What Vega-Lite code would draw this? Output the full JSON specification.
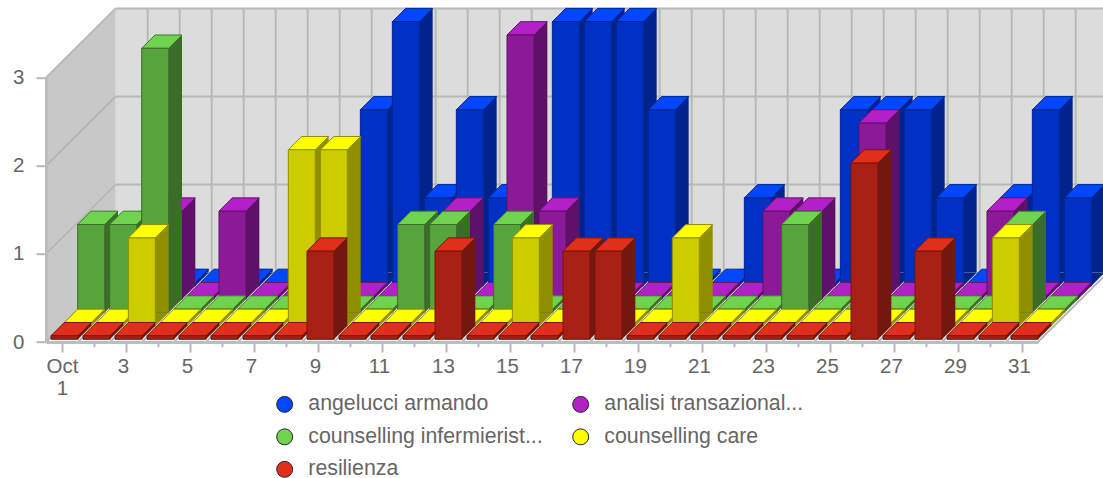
{"$schema":"https://vega.github.io/schema/vega-lite/v6.json","width":992,"height":264.3,"autosize":{"type":"none"},"padding":{"left":46,"top":77.7,"right":65,"bottom":136},"background":"#ffffff",
"config":{"view":{"stroke":null},"font":"Liberation Sans","axis":{"labelFont":"Liberation Sans","labelFontSize":20.5,"labelColor":"#666666","domainColor":"#bdbdbd","tickColor":"#b8b8b8","grid":false,"title":null},"legend":{"labelFont":"Liberation Sans"}},
"datasets":{"edges":[{"d":0.5},{"d":1.5},{"d":2.5},{"d":3.5},{"d":4.5},{"d":5.5},{"d":6.5},{"d":7.5},{"d":8.5},{"d":9.5},{"d":10.5},{"d":11.5},{"d":12.5},{"d":13.5},{"d":14.5},{"d":15.5},{"d":16.5},{"d":17.5},{"d":18.5},{"d":19.5},{"d":20.5},{"d":21.5},{"d":22.5},{"d":23.5},{"d":24.5},{"d":25.5},{"d":26.5},{"d":27.5},{"d":28.5},{"d":29.5},{"d":30.5},{"d":31.5}],"levels":[{"l":0,"d":0.5,"d2":31.5},{"l":1,"d":0.5,"d2":31.5},{"l":2,"d":0.5,"d2":31.5},{"l":3,"d":0.5,"d2":31.5}],
"bars":[
{"d":1,"a":0,"b":0,"c":1,"y":0,"r":0},{"d":2,"a":0,"b":0,"c":1,"y":0,"r":0},{"d":3,"a":0,"b":1,"c":3,"y":1,"r":0},{"d":4,"a":0,"b":0,"c":0,"y":0,"r":0},{"d":5,"a":0,"b":1,"c":0,"y":0,"r":0},{"d":6,"a":0,"b":0,"c":0,"y":0,"r":0},{"d":7,"a":0,"b":0,"c":0,"y":0,"r":0},{"d":8,"a":0,"b":0,"c":0,"y":2,"r":0},{"d":9,"a":2,"b":0,"c":0,"y":2,"r":1},{"d":10,"a":3,"b":0,"c":0,"y":0,"r":0},{"d":11,"a":1,"b":0,"c":1,"y":0,"r":0},{"d":12,"a":2,"b":1,"c":1,"y":0,"r":0},{"d":13,"a":1,"b":0,"c":0,"y":0,"r":1},{"d":14,"a":0,"b":3,"c":1,"y":0,"r":0},{"d":15,"a":3,"b":1,"c":0,"y":1,"r":0},{"d":16,"a":3,"b":0,"c":0,"y":0,"r":0},{"d":17,"a":3,"b":0,"c":0,"y":0,"r":1},{"d":18,"a":2,"b":0,"c":0,"y":0,"r":1},{"d":19,"a":0,"b":0,"c":0,"y":0,"r":0},{"d":20,"a":0,"b":0,"c":0,"y":1,"r":0},{"d":21,"a":1,"b":0,"c":0,"y":0,"r":0},{"d":22,"a":0,"b":1,"c":0,"y":0,"r":0},{"d":23,"a":0,"b":1,"c":1,"y":0,"r":0},{"d":24,"a":2,"b":0,"c":0,"y":0,"r":0},{"d":25,"a":2,"b":2,"c":0,"y":0,"r":0},{"d":26,"a":2,"b":0,"c":0,"y":0,"r":2},{"d":27,"a":1,"b":0,"c":0,"y":0,"r":0},{"d":28,"a":0,"b":0,"c":0,"y":0,"r":1},{"d":29,"a":1,"b":1,"c":0,"y":0,"r":0},{"d":30,"a":2,"b":0,"c":1,"y":1,"r":0},{"d":31,"a":1,"b":0,"c":0,"y":0,"r":0}]},
"data":{"name":"bars"},
"encoding":{"x":{"field":"d","type":"quantitative","title":null,"scale":{"domain":[0.5,31.5],"nice":false,"zero":false,"padding":0},"axis":{"values":[1,2,3,4,5,6,7,8,9,10,11,12,13,14,15,16,17,18,19,20,21,22,23,24,25,26,27,28,29,30,31],"zindex":1,"domainWidth":3,"tickWidth":2,"tickSize":{"condition":{"test":"datum.value%2==0","value":4.5},"value":10},"labelOverlap":false,"labelFlush":false,"labelPadding":{"condition":{"test":"datum.value%2==0","value":9.5},"value":4},"labelLineHeight":22,"labelOffset":{"condition":{"test":"datum.value==1","value":0},"value":-3},"labelExpr":"datum.value==1?['Oct','1']:(datum.value%2==1?''+datum.value:'')"}}},
"layer":[
{"data":{"values":[{"d":0.5,"d2":31.5,"lo":0,"hi":3}]},"mark":{"type":"rect","fill":"#dcdcdc","xOffset":69.7,"x2Offset":69.7,"yOffset":-69.3,"y2Offset":-69.3},"encoding":{"x2":{"field":"d2"},"y":{"field":"lo","type":"quantitative","scale":{"domain":[0,3],"nice":false},"axis":{"values":[0,1,2,3],"format":"d","zindex":1,"domainWidth":3,"tickWidth":2,"tickSize":10,"labelPadding":12}},"y2":{"field":"hi"}}},
{"data":{"values":[{"d":0.5,"lo":0}]},"mark":{"type":"point","filled":true,"opacity":1,"size":4,"fill":"#c8c8c8","shape":"M0,0L0,-264.3L69.7,-333.6L69.7,-69.3Z"},"encoding":{"y":{"field":"lo","type":"quantitative"}}},
{"data":{"name":"edges"},"transform":[{"filter":"datum.d>0.5"}],"mark":{"type":"rule","stroke":"#b8b8b8","strokeWidth":2,"xOffset":69.7,"yOffset":-69.3,"y2Offset":-69.3},"encoding":{"y":{"datum":0,"type":"quantitative"},"y2":{"datum":3}}},
{"data":{"name":"edges"},"mark":{"type":"rule","stroke":"#b8b8b8","strokeWidth":2,"x2Offset":69.7,"y2Offset":-69.3},"encoding":{"x2":{"field":"d"},"y":{"datum":0,"type":"quantitative"},"y2":{"datum":0}}},
{"data":{"name":"levels"},"mark":{"type":"rule","stroke":"#b8b8b8","strokeWidth":2,"xOffset":69.7,"x2Offset":69.7,"yOffset":-69.3,"y2Offset":-69.3},"encoding":{"x2":{"field":"d2"},"y":{"field":"l","type":"quantitative"}}},
{"data":{"name":"levels"},"mark":{"type":"rule","stroke":"#b8b8b8","strokeWidth":2,"x2Offset":69.7,"y2Offset":-69.3},"encoding":{"x2":{"field":"d"},"y":{"field":"l","type":"quantitative"},"y2":{"field":"l"}}},

{"mark":{"type":"bar","width":13.33,"fill":"#00248c","xOffset":76,"yOffset":{"expr":"datum.a==0?-72.9:-69.4"},"y2Offset":-69.4},"encoding":{"y":{"field":"a","type":"quantitative","stack":null},"y2":{"datum":0}}},
{"mark":{"type":"point","filled":true,"opacity":1,"size":4,"fill":"#00248c","shape":"M69.33,-13.33L69.33,0L82.66,-13.33Z","yOffset":-56},"encoding":{"y":{"datum":0,"type":"quantitative"}}},
{"mark":{"type":"point","filled":true,"opacity":1,"size":4,"fill":"#0047ff","stroke":"#002a9a","strokeWidth":1,"shape":"M42.33,0L69.33,0L82.66,-13.33L55.66,-13.33Z","yOffset":{"expr":"datum.a==0?-59.5:-56"}},"encoding":{"y":{"field":"a","type":"quantitative"}}},
{"mark":{"type":"bar","width":27,"fill":"#0030c4","stroke":"#00248c","strokeWidth":1,"xOffset":55.83,"yOffset":{"expr":"datum.a==0?-59.5:-56"},"y2Offset":-56},"encoding":{"y":{"field":"a","type":"quantitative","stack":null},"y2":{"datum":0}}},

{"mark":{"type":"bar","width":13.33,"fill":"#5f1068","xOffset":62.67,"yOffset":{"expr":"datum.b==0?-59.5:-56"},"y2Offset":-56},"encoding":{"y":{"field":"b","type":"quantitative","stack":null},"y2":{"datum":0}}},
{"mark":{"type":"point","filled":true,"opacity":1,"size":4,"fill":"#5f1068","shape":"M56,-13.33L56,0L69.33,-13.33Z","yOffset":-42.7},"encoding":{"y":{"datum":0,"type":"quantitative"}}},
{"mark":{"type":"point","filled":true,"opacity":1,"size":4,"fill":"#b420c8","stroke":"#6a1272","strokeWidth":1,"shape":"M29,0L56,0L69.33,-13.33L42.33,-13.33Z","yOffset":{"expr":"datum.b==0?-46.2:-42.7"}},"encoding":{"y":{"field":"b","type":"quantitative"}}},
{"mark":{"type":"bar","width":27,"fill":"#8c1a96","stroke":"#5f1068","strokeWidth":1,"xOffset":42.5,"yOffset":{"expr":"datum.b==0?-46.2:-42.7"},"y2Offset":-42.7},"encoding":{"y":{"field":"b","type":"quantitative","stack":null},"y2":{"datum":0}}},

{"mark":{"type":"bar","width":13.33,"fill":"#3a6e28","xOffset":49.34,"yOffset":{"expr":"datum.c==0?-46.2:-42.7"},"y2Offset":-42.7},"encoding":{"y":{"field":"c","type":"quantitative","stack":null},"y2":{"datum":0}}},
{"mark":{"type":"point","filled":true,"opacity":1,"size":4,"fill":"#3a6e28","shape":"M42.67,-13.33L42.67,0L56,-13.33Z","yOffset":-29.4},"encoding":{"y":{"datum":0,"type":"quantitative"}}},
{"mark":{"type":"point","filled":true,"opacity":1,"size":4,"fill":"#6fd34f","stroke":"#3f7a2c","strokeWidth":1,"shape":"M15.67,0L42.67,0L56,-13.33L29,-13.33Z","yOffset":{"expr":"datum.c==0?-32.9:-29.4"}},"encoding":{"y":{"field":"c","type":"quantitative"}}},
{"mark":{"type":"bar","width":27,"fill":"#56a43b","stroke":"#3a6e28","strokeWidth":1,"xOffset":29.17,"yOffset":{"expr":"datum.c==0?-32.9:-29.4"},"y2Offset":-29.4},"encoding":{"y":{"field":"c","type":"quantitative","stack":null},"y2":{"datum":0}}},

{"mark":{"type":"bar","width":13.33,"fill":"#8f8f00","xOffset":36,"yOffset":{"expr":"datum.y==0?-32.9:-29.4"},"y2Offset":-29.4},"encoding":{"y":{"field":"y","type":"quantitative","stack":null},"y2":{"datum":0}}},
{"mark":{"type":"point","filled":true,"opacity":1,"size":4,"fill":"#8f8f00","shape":"M29.33,-13.33L29.33,0L42.66,-13.33Z","yOffset":-16},"encoding":{"y":{"datum":0,"type":"quantitative"}}},
{"mark":{"type":"point","filled":true,"opacity":1,"size":4,"fill":"#ffff00","stroke":"#8f8f00","strokeWidth":1,"shape":"M2.33,0L29.33,0L42.66,-13.33L15.66,-13.33Z","yOffset":{"expr":"datum.y==0?-19.5:-16"}},"encoding":{"y":{"field":"y","type":"quantitative"}}},
{"mark":{"type":"bar","width":27,"fill":"#cccc00","stroke":"#8f8f00","strokeWidth":1,"xOffset":15.83,"yOffset":{"expr":"datum.y==0?-19.5:-16"},"y2Offset":-16},"encoding":{"y":{"field":"y","type":"quantitative","stack":null},"y2":{"datum":0}}},

{"mark":{"type":"bar","width":13.33,"fill":"#74170e","xOffset":22.67,"yOffset":{"expr":"datum.r==0?-19.5:-16"},"y2Offset":-16},"encoding":{"y":{"field":"r","type":"quantitative","stack":null},"y2":{"datum":0}}},
{"mark":{"type":"point","filled":true,"opacity":1,"size":4,"fill":"#74170e","shape":"M16,-13.33L16,0L29.33,-13.33Z","yOffset":-2.7},"encoding":{"y":{"datum":0,"type":"quantitative"}}},
{"mark":{"type":"point","filled":true,"opacity":1,"size":4,"fill":"#e0301c","stroke":"#74170e","strokeWidth":1,"shape":"M-11,0L16,0L29.33,-13.33L2.33,-13.33Z","yOffset":{"expr":"datum.r==0?-6.2:-2.7"}},"encoding":{"y":{"field":"r","type":"quantitative"}}},
{"mark":{"type":"bar","width":27,"fill":"#a82014","stroke":"#74170e","strokeWidth":1,"xOffset":2.5,"yOffset":{"expr":"datum.r==0?-6.2:-2.7"},"y2Offset":-2.7},"encoding":{"y":{"field":"r","type":"quantitative","stack":null},"y2":{"datum":0}}},

{"data":{"values":[{"d":1,"s":"angelucci armando"},{"d":1,"s":"analisi transazional..."},{"d":1,"s":"counselling infermierist..."},{"d":1,"s":"counselling care"},{"d":1,"s":"resilienza"}]},"mark":{"type":"point","filled":true,"size":0,"opacity":1},"encoding":{"y":{"datum":0,"type":"quantitative"},"color":{"field":"s","type":"nominal","scale":{"domain":["angelucci armando","analisi transazional...","counselling infermierist...","counselling care","resilienza"],"range":["#0047ff","#b420c8","#6fd34f","#ffff00","#e0301c"]},"legend":{"title":null,"orient":"none","legendX":228,"legendY":316,"direction":"horizontal","columns":2,"symbolType":"circle","symbolSize":254,"symbolStrokeColor":"#222222","symbolStrokeWidth":1,"symbolOpacity":1,"labelFontSize":21.3,"labelColor":"#666666","labelLimit":300,"labelOffset":13,"rowPadding":10.5,"columnPadding":27,"padding":0}}}}
]}
